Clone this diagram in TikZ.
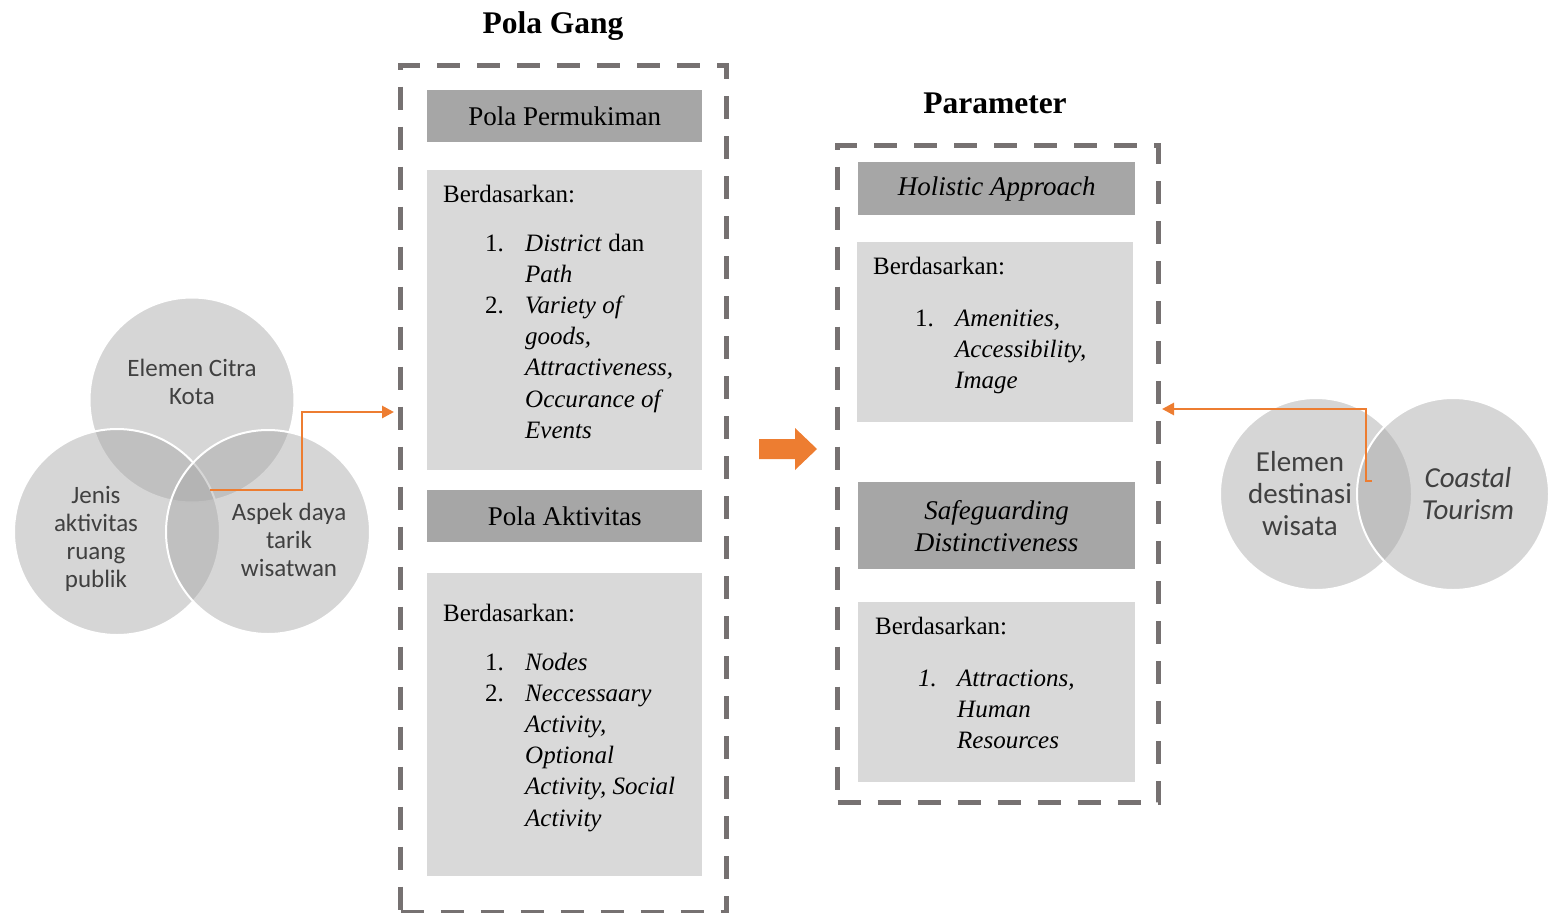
\documentclass[tikz,border=0pt]{standalone}
\usepackage{fontspec}
\setmainfont{Liberation Serif}
\newfontfamily\carlito{Carlito}
\usepackage{array}
\usetikzlibrary{arrows.meta}
\definecolor{dashgray}{HTML}{767171}
\definecolor{hdrgray}{HTML}{A6A6A6}
\definecolor{boxgray}{HTML}{D9D9D9}
\definecolor{accent}{HTML}{ED7D31}
\definecolor{venntext}{HTML}{404040}
\begin{document}
\begin{tikzpicture}[x=1pt,y=-1pt,
  dashbox/.style={draw=dashgray, line width=5pt, dash pattern=on 23pt off 17pt, inner sep=0, anchor=north west},
  hdr/.style={fill=hdrgray, inner sep=0, anchor=north west, align=center, font=\fontsize{27}{32}\selectfont},
  cbox/.style={fill=boxgray, inner sep=0, anchor=north west},
  btext/.style={anchor=base west, inner sep=0, font=\fontsize{25}{31.2}\selectfont},
  ttl/.style={font=\bfseries\fontsize{31.5}{36}\selectfont, inner sep=0},
  venn/.style={circle, fill=hdrgray, fill opacity=0.46, draw=white, draw opacity=1, line width=2pt, inner sep=0},
  vlabel/.style={align=center, text=venntext, inner sep=0, font=\carlito\fontsize{25}{28}\selectfont},
  vlabelbig/.style={align=center, text=venntext, inner sep=0, font=\carlito\fontsize{29}{32}\selectfont},
  flow/.style={draw=accent, line width=2.8pt, -{Triangle[length=12pt,width=12pt]}}
]
\useasboundingbox (0,0) rectangle (1548,913);

% ---------- left Venn ----------
\node[venn, minimum size=205pt] (vtop) at (192,400) {};
\node[venn, minimum size=206pt] (vleft) at (117,532) {};
\node[venn, minimum size=204pt] (vright) at (268,532) {};
\node[vlabel] (ltop) at (192,382) {Elemen Citra\\Kota};
\node[vlabel] (lleft) at (96,539) {Jenis\\aktivitas\\ruang\\publik};
\node[vlabel] (lright) at (289,540) {Aspek daya\\tarik\\wisatwan};

% ---------- Pola Gang ----------
\node[ttl] (tgang) at (553,26) {Pola Gang};
\node[dashbox, minimum width=326pt, minimum height=847pt] (gang) at (398,63) {};
\node[hdr, minimum width=275pt, minimum height=52pt] (h1) at (427,90) {Pola Permukiman};
\node[cbox, minimum width=275pt, minimum height=300pt] (b1) at (427,170) {};
\node[btext] (b1a) at (443,202) {Berdasarkan:};
\node[btext] (b1b) at (485,251) {\begin{tabular}[t]{@{}p{40pt}@{}l@{}}
1. & \textit{District} dan\\
   & \textit{Path}\\
2. & \textit{Variety of}\\
   & \textit{goods,}\\
   & \textit{Attractiveness,}\\
   & \textit{Occurance of}\\
   & \textit{Events}
\end{tabular}};
\node[hdr, minimum width=275pt, minimum height=52pt] (h2) at (427,490) {Pola Aktivitas};
\node[cbox, minimum width=275pt, minimum height=303pt] (b2) at (427,573) {};
\node[btext] (b2a) at (443,621) {Berdasarkan:};
\node[btext] (b2b) at (485,670) {\begin{tabular}[t]{@{}p{40pt}@{}l@{}}
1. & \textit{Nodes}\\
2. & \textit{Neccessaary}\\
   & \textit{Activity,}\\
   & \textit{Optional}\\
   & \textit{Activity, Social}\\
   & \textit{Activity}
\end{tabular}};

% ---------- big arrow ----------
\fill[accent] (759,439) -- (795,439) -- (795,428) -- (817,449) -- (795,470) -- (795,459) -- (759,459) -- cycle;

% ---------- Parameter ----------
\node[ttl] (tpar) at (995,103) {Parameter};
\node[dashbox, minimum width=321pt, minimum height=657pt] (par) at (835,143) {};
\node[hdr, minimum width=277pt, minimum height=53pt] (h3) at (858,162) {\textit{Holistic Approach}};
\node[cbox, minimum width=276pt, minimum height=180pt] (b3) at (857,242) {};
\node[btext] (b3a) at (873,274) {Berdasarkan:};
\node[btext] (b3b) at (915,326) {\begin{tabular}[t]{@{}p{40pt}@{}l@{}}
1. & \textit{Amenities,}\\
   & \textit{Accessibility,}\\
   & \textit{Image}
\end{tabular}};
\node[hdr, minimum width=277pt, minimum height=87pt] (h4) at (858,482) {\textit{Safeguarding}\\\textit{Distinctiveness}};
\node[cbox, minimum width=277pt, minimum height=180pt] (b4) at (858,602) {};
\node[btext] (b4a) at (875,634) {Berdasarkan:};
\node[btext] (b4b) at (918,686) {\begin{tabular}[t]{@{}p{39pt}@{}l@{}}
\textit{1.} & \textit{Attractions,}\\
   & \textit{Human}\\
   & \textit{Resources}
\end{tabular}};

% ---------- right Venn ----------
\node[venn, minimum size=192pt] (vdest) at (1316,494) {};
\node[venn, minimum size=192pt] (vcoast) at (1453,494) {};
\node[vlabelbig] (ldest) at (1300,494) {Elemen\\destinasi\\wisata};
\node[vlabelbig] (lcoast) at (1468,494) {\textit{Coastal}\\\textit{Tourism}};

% ---------- connectors ----------
\coordinate (hub) at (210,490);
\coordinate (bend1) at (302,490);
\coordinate (gangin) at (394,412);
\draw[flow] (hub) -- (bend1) |- (gangin);
\coordinate (hub2) at (1372,481);
\coordinate (bend2) at (1366,481);
\coordinate (parin) at (1162,409);
\draw[flow] (hub2) -- (bend2) |- (parin);
\end{tikzpicture}
\end{document}
